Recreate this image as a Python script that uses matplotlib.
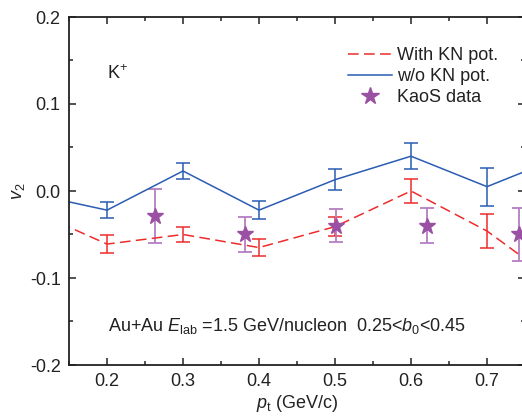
import matplotlib
matplotlib.use("Agg")
import matplotlib.pyplot as plt
from matplotlib.lines import Line2D
from matplotlib.ticker import MultipleLocator, FormatStrFormatter

plt.rcParams['font.family'] = ['Liberation Sans', 'DejaVu Sans']
plt.rcParams['mathtext.fontset'] = 'custom'
plt.rcParams['mathtext.rm'] = 'Liberation Sans'
plt.rcParams['mathtext.it'] = 'Liberation Sans:italic'
plt.rcParams['axes.unicode_minus'] = True

# transport model results (K+ elliptic flow vs pt)
pt_model = [0.1, 0.2, 0.3, 0.4, 0.5, 0.6, 0.7, 0.8]
v2_with_kn = [-0.022, -0.061, -0.050, -0.065, -0.041, 0.000, -0.046, -0.11]
err_with_kn = [0.010, 0.010, 0.009, 0.010, 0.011, 0.014, 0.020, 0.020]
v2_without_kn = [-0.003, -0.022, 0.023, -0.022, 0.013, 0.040, 0.005, 0.040]
err_without_kn = [0.009, 0.009, 0.009, 0.010, 0.012, 0.015, 0.022, 0.022]

# KaoS measurement
pt_kaos = [0.263, 0.382, 0.501, 0.621, 0.742]
v2_kaos = [-0.029, -0.050, -0.040, -0.040, -0.050]
err_kaos = [0.031, 0.020, 0.019, 0.020, 0.030]

red = '#EE2B2B'
blue = '#2A5CB3'
purple = '#9A50A3'
purple_light = '#B57EC2'
ink = '#222222'
fs = 13

fig = plt.figure(figsize=(5.22, 4.19), dpi=100)
ax = fig.add_axes([69 / 522, 54 / 419, 456 / 522, 348 / 419])

ax.errorbar(pt_model, v2_with_kn, yerr=err_with_kn, color=red, lw=1.1,
            dashes=(7, 3.5), capsize=5, capthick=1.1, elinewidth=1.1)
ax.errorbar(pt_model, v2_without_kn, yerr=err_without_kn, color=blue, lw=1.1,
            capsize=5, capthick=1.1, elinewidth=1.1)
ax.errorbar(pt_kaos, v2_kaos, yerr=err_kaos, fmt='*', color=purple,
            ecolor=purple_light, markersize=12, capsize=5, capthick=1.3,
            elinewidth=1.3)

ax.set_xlim(0.15, 0.75)
ax.set_ylim(-0.2, 0.2)
ax.xaxis.set_major_locator(MultipleLocator(0.1))
ax.xaxis.set_minor_locator(MultipleLocator(0.05))
ax.yaxis.set_major_locator(MultipleLocator(0.1))
ax.yaxis.set_minor_locator(MultipleLocator(0.05))
ax.xaxis.set_major_formatter(FormatStrFormatter('%.1f'))
ax.yaxis.set_major_formatter(FormatStrFormatter('%.1f'))
ax.tick_params(which='both', direction='in', top=True, right=True,
               labelsize=fs, width=1.1, color=ink, labelcolor=ink, pad=6)
ax.tick_params(which='major', length=5)
ax.tick_params(which='minor', length=2.6)
for sp in ax.spines.values():
    sp.set_linewidth(1.3)
    sp.set_color(ink)

ax.set_xlabel(r'$p_{\mathrm{t}}$ (GeV/c)', fontsize=fs, labelpad=2, color=ink)
ax.set_ylabel(r'$v_{2}$', fontsize=fs, labelpad=2, color=ink)

ax.text(0.200, 0.135, r'K$^{\mathrm{+}}$', fontsize=fs, va='center', ha='left',
        color=ink)
ax.text(0.201, -0.155,
        r'Au+Au $E_{\mathrm{lab}}$ =1.5 GeV/nucleon  0.25<$b_{\mathrm{0}}$<0.45',
        fontsize=fs, va='center', ha='left', color=ink)

# legend shows plain line / marker samples
handles = [
    Line2D([], [], color=red, lw=1.1, dashes=(7, 3.5)),
    Line2D([], [], color=blue, lw=1.1),
    Line2D([], [], ls='none', marker='*', color=purple, markersize=13),
]
labels = ['With KN pot.', 'w/o KN pot.', 'KaoS data']
leg = ax.legend(handles, labels, loc='upper right', bbox_to_anchor=(0.965, 0.945),
                frameon=False, fontsize=fs, handlelength=2.4,
                handletextpad=0.3, labelspacing=0.22, numpoints=1,
                borderaxespad=0.2)
for t in leg.get_texts():
    t.set_color(ink)

fig.savefig('out.png', dpi=100)
